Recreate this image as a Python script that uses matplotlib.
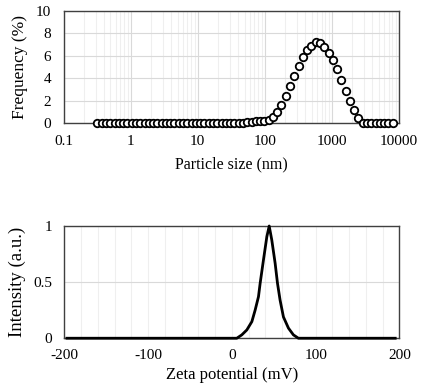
import numpy as np
import matplotlib.pyplot as plt

plt.rcParams['font.family'] = ['Liberation Serif', 'DejaVu Serif']
plt.rcParams['font.size'] = 11
plt.rcParams['axes.unicode_minus'] = False

# particle size distribution (nm, %)
size_nm = [0.320, 0.371, 0.429, 0.497, 0.576, 0.667, 0.772, 0.895, 1.036, 1.200,
           1.390, 1.610, 1.864, 2.159, 2.501, 2.897, 3.355, 3.886, 4.500, 5.212,
           6.037, 6.992, 8.098, 9.379, 10.86, 12.58, 14.57, 16.88, 19.55, 22.64,
           26.22, 30.37, 35.17, 40.74, 47.18, 54.64, 63.29, 73.30, 84.90, 98.33,
           113.9, 131.9, 152.8, 176.9, 204.9, 237.3, 274.9, 318.4, 368.7, 427.1,
           494.6, 572.9, 663.5, 768.5, 890.1, 1031, 1194, 1383, 1602, 1855,
           2148, 2488, 2882, 3338, 3866, 4478, 5186, 6006, 6956, 8057]
freq = [0, 0, 0, 0, 0, 0, 0, 0, 0, 0,
        0, 0, 0, 0, 0, 0, 0, 0, 0, 0,
        0, 0, 0, 0, 0, 0, 0, 0, 0, 0,
        0, 0, 0, 0.02, 0.05, 0.1, 0.15, 0.2, 0.25, 0.25,
        0.35, 0.6, 1.0, 1.6, 2.4, 3.3, 4.2, 5.1, 5.9, 6.5,
        6.9, 7.2, 7.15, 6.8, 6.3, 5.6, 4.8, 3.9, 2.9, 2.0,
        1.2, 0.45, 0.05, 0, 0, 0, 0, 0, 0, 0]

# zeta potential distribution (mV, a.u.)
zeta_mv = [-197, 0, 5.8, 11.8, 17.8, 23.8, 27.7, 31.7, 33.7, 37.7, 41.7, 44.5,
           47.6, 51.6, 54.4, 57.5, 61.5, 67.5, 73.4, 79.4, 195]
intensity = [0, 0, 0, 0.03, 0.074, 0.148, 0.25, 0.37, 0.49, 0.70, 0.905, 1.0,
             0.875, 0.668, 0.49, 0.34, 0.19, 0.09, 0.03, 0, 0]

frame = '#404040'
grid_major = '#d9d9d9'
grid_minor = '#efefef'

fig = plt.figure(figsize=(4.24, 3.87), dpi=100)

# top: size distribution
ax1 = fig.add_axes([0.150, 0.681, 0.791, 0.291])
ax1.plot(size_nm, freq, 'o', ms=5.4, mfc='white', mec='black', mew=1.3,
         clip_on=False, zorder=3)
ax1.set_xscale('log')
ax1.set_xlim(0.1, 10000)
ax1.set_ylim(0, 10)
ax1.set_yticks([0, 2, 4, 6, 8, 10])
ax1.set_xticks([0.1, 1, 10, 100, 1000, 10000])
ax1.set_xticklabels(['0.1', '1', '10', '100', '1000', '10000'])
ax1.grid(which='major', color=grid_major, lw=0.8)
ax1.grid(which='minor', axis='x', color=grid_minor, lw=0.8)
ax1.tick_params(which='both', length=0)
ax1.tick_params(axis='x', pad=8)
ax1.tick_params(axis='y', pad=9)
ax1.set_xlabel('Particle size (nm)', fontsize=11.5, labelpad=6)
ax1.set_ylabel('Frequency (%)', fontsize=12.5, labelpad=6)

# bottom: zeta potential
ax2 = fig.add_axes([0.152, 0.126, 0.790, 0.290])
ax2.plot(zeta_mv, intensity, color='black', lw=2, clip_on=False, zorder=3)
ax2.set_xlim(-200, 200)
ax2.set_ylim(0, 1)
ax2.set_xticks([-200, -100, 0, 100, 200])
ax2.set_xticks(np.arange(-200, 201, 20), minor=True)
ax2.set_yticks([0, 0.5, 1])
ax2.set_yticklabels(['0', '0.5', '1'])
ax2.grid(which='both', axis='x', color=grid_minor, lw=0.8)
ax2.grid(which='major', axis='y', color=grid_major, lw=0.8)
ax2.tick_params(which='both', length=0)
ax2.tick_params(axis='x', pad=8)
ax2.tick_params(axis='y', pad=9)
ax2.set_xlabel('Zeta potential (mV)', fontsize=12, labelpad=3)
ax2.set_ylabel('Intensity (a.u.)', fontsize=13.5, labelpad=5)

for ax in (ax1, ax2):
    ax.set_axisbelow(True)
    for s in ax.spines.values():
        s.set_color(frame)
        s.set_linewidth(1)

plt.savefig('out.png', dpi=100)
